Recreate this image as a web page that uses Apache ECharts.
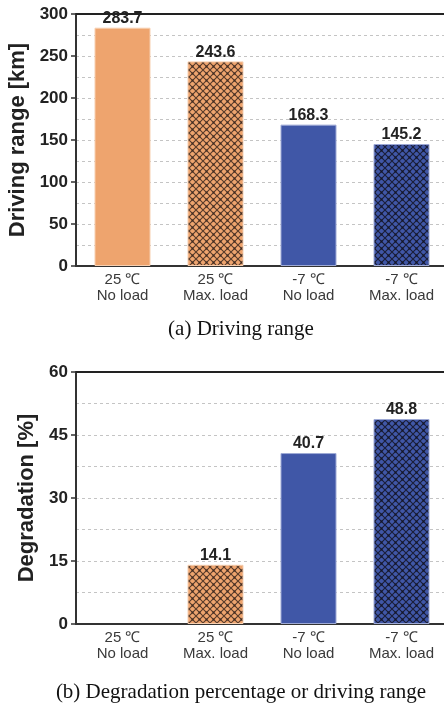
<!DOCTYPE html>
<html><head><meta charset="utf-8">
<script src="https://cdn.jsdelivr.net/npm/echarts@6/dist/echarts.min.js"></script>
<style>html,body{margin:0;padding:0;background:#fff;overflow:hidden}#c{width:444px;height:705px}</style>
</head><body><div id="c"></div><script>
const categories = ['25 ℃\nNo load', '25 ℃\nMax. load', '-7 ℃\nNo load', '-7 ℃\nMax. load'];
const rangeValues = [283.7, 243.6, 168.3, 145.2];
const degradationValues = [null, 14.1, 40.7, 48.8];
const hatched = [false, true, false, true];
const barColors = ['#EEA46E', '#EEA46E', '#4057A7', '#4057A7'];
const rangeAxis = { min: 0, max: 300, interval: 50 };
const degAxis = { min: 0, max: 60, interval: 15 };
const rangeName = 'Driving range [km]';
const degName = 'Degradation [%]';
const captionA = '(a) Driving range';
const captionB = '(b) Degradation percentage or driving range';

function hatch(base, line) {
  const s = 7;
  const cv = document.createElement('canvas');
  cv.width = s; cv.height = s;
  const ctx = cv.getContext('2d');
  ctx.fillStyle = base; ctx.fillRect(0, 0, s, s);
  ctx.strokeStyle = line; ctx.lineWidth = 1.1;
  ctx.beginPath();
  ctx.moveTo(0, 0); ctx.lineTo(s, s);
  ctx.moveTo(s, 0); ctx.lineTo(0, s);
  ctx.stroke();
  ctx.fillStyle = line;
  ctx.fillRect(s / 2 - 1, s / 2 - 1, 2, 2);
  return { image: cv, repeat: 'repeat' };
}
const borderColors = ['#F7CFB0', '#F7CFB0', '#9EAAD6', '#9EAAD6'];
function itemFor(i) {
  const c = hatched[i] ? hatch(barColors[i], i < 2 ? 'rgba(60,40,30,0.85)' : 'rgba(20,20,35,0.85)') : barColors[i];
  return { color: c, borderColor: borderColors[i], borderWidth: 1 };
}

const chart = echarts.init(document.getElementById('c'), null, { renderer: 'canvas' });
const font = 'Liberation Sans, Arial, sans-serif';
const gridBase = { left: 76, width: 372, height: 252, outerBoundsMode: 'none', containLabel: false };
function yAx(gi, ax, name) {
  return {
    type: 'value', gridIndex: gi, min: ax.min, max: ax.max, interval: ax.interval,
    name: name, nameLocation: 'middle', nameGap: 36,
    nameTextStyle: { fontFamily: font, fontWeight: 'bold', fontSize: 22, color: '#222' },
    axisLine: { show: true, lineStyle: { color: '#333', width: 2 } },
    axisTick: { show: true, length: 5, lineStyle: { color: '#333', width: 1.5 } },
    axisLabel: { margin: 8, fontFamily: font, fontWeight: 'bold', fontSize: 17, color: '#222' },
    splitLine: { show: true, showMinLine: false, showMaxLine: false, lineStyle: { color: '#c4c4c4', type: [3, 3], width: 1 } },
    minorTick: { show: false, splitNumber: 2 },
    minorSplitLine: { show: true, lineStyle: { color: '#c4c4c4', type: [3, 3], width: 1 } }
  };
}
function xAx(gi) {
  return {
    type: 'category', gridIndex: gi, data: categories,
    axisLine: { show: true, lineStyle: { color: '#333', width: 2 } },
    axisTick: { show: false },
    axisLabel: { margin: 6, fontFamily: font, fontSize: 15, lineHeight: 16, color: '#3a3a3a' },
    splitLine: { show: false }
  };
}
function xTop(gi) {
  return {
    type: 'category', gridIndex: gi, position: 'top', data: categories,
    axisLine: { show: true, lineStyle: { color: '#222', width: 2 } },
    axisTick: { show: false }, axisLabel: { show: false }, splitLine: { show: false }
  };
}
function barSeries(gi, vals) {
  return {
    type: 'bar', xAxisIndex: gi * 2, yAxisIndex: gi, barWidth: 56,
    data: vals.map((v, i) => ({ value: v, itemStyle: itemFor(i) })),
    label: { show: true, position: 'top', distance: 1, fontFamily: font, fontWeight: 'bold', fontSize: 16, color: '#222',
      formatter: p => p.value == null ? '' : p.value.toFixed(1) },
    z: 2
  };
}
chart.setOption({
  animation: false,
  grid: [Object.assign({ top: 14 }, gridBase), Object.assign({ top: 372 }, gridBase)],
  xAxis: [xAx(0), xTop(0), xAx(1), xTop(1)],
  yAxis: [yAx(0, rangeAxis, rangeName), yAx(1, degAxis, degName)],
  series: [barSeries(0, rangeValues), barSeries(1, degradationValues)],
  title: [
    { text: captionA, left: 236, textAlign: 'center', top: 314, textStyle: { fontFamily: 'Liberation Serif, Times New Roman, serif', fontWeight: 'normal', fontSize: 21, color: '#111' } },
    { text: captionB, left: 236, textAlign: 'center', top: 677, textStyle: { fontFamily: 'Liberation Serif, Times New Roman, serif', fontWeight: 'normal', fontSize: 21, color: '#111' } }
  ]
});
</script></body></html>
